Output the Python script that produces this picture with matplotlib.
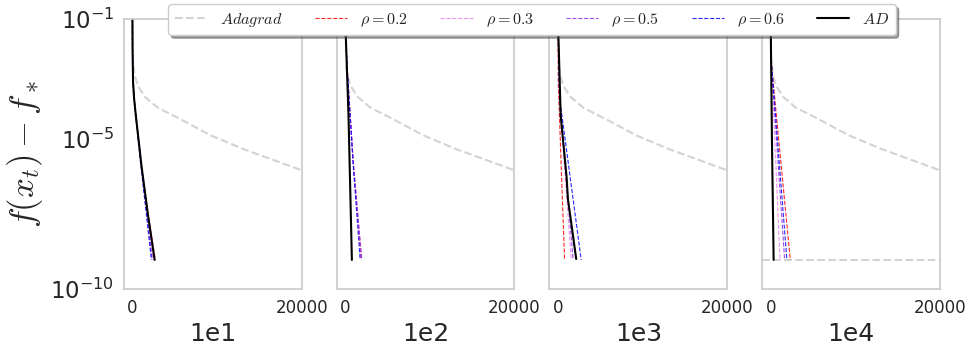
import matplotlib
matplotlib.use('Agg')
import matplotlib.pyplot as plt
import seaborn as sns

sns.set_style('white')
plt.rcParams['mathtext.fontset'] = 'cm'
plt.rcParams['axes.edgecolor'] = '.8'
plt.rcParams['axes.linewidth'] = 1.25

panel_names = ['1e1', '1e2', '1e3', '1e4']

# Adagrad (same shape in every panel)
adagrad_t = [100, 300, 700, 1500, 3000, 5400, 9300, 13200, 17100, 20000]
adagrad_f = [2.8e-3, 1.2e-3, 5.5e-4, 2.5e-4, 1.1e-4, 5.0e-5, 1.3e-5, 4.5e-6, 1.8e-6, 9e-7]
adagrad_floor_1e4 = 9.3e-10

# panel 1e1
p1_ad_t = [0, 10, 70, 190, 390, 1060, 1830, 2620]
p1_ad_f = [1e-1, 1.1e-2, 8e-4, 2.3e-4, 6.3e-5, 1.3e-6, 3e-8, 9.3e-10]
p1_r02_t = [0, 10, 70, 190, 390, 1060, 1850, 2700]
p1_r02_f = [1e-1, 1.1e-2, 8e-4, 2.3e-4, 6.3e-5, 1.3e-6, 3e-8, 9.3e-10]
p1_r03_t = [0, 10, 70, 190, 390, 1060, 2450]
p1_r03_f = [1e-1, 1.1e-2, 8e-4, 2.3e-4, 6.3e-5, 1.3e-6, 9.3e-10]
p1_r05_t = [0, 10, 70, 190, 390, 1060, 2330]
p1_r05_f = [1e-1, 1.1e-2, 8e-4, 2.3e-4, 6.3e-5, 1.3e-6, 9.3e-10]
p1_r06_t = [0, 10, 70, 190, 390, 1000, 2240]
p1_r06_f = [1e-1, 1.1e-2, 8e-4, 2.3e-4, 6.3e-5, 1.3e-6, 9.3e-10]

# panel 1e2
p2_ad_t = [0, 390, 790]
p2_ad_f = [1e-1, 6.3e-5, 9.3e-10]
p2_r02_t = [0, 200, 980, 1900]
p2_r02_f = [1e-1, 3.0e-3, 1.3e-6, 9.3e-10]
p2_r03_t = [0, 200, 980, 1970]
p2_r03_f = [1e-1, 3.0e-3, 1.3e-6, 9.3e-10]
p2_r05_t = [0, 200, 980, 1950]
p2_r05_f = [1e-1, 3.0e-3, 1.3e-6, 9.3e-10]
p2_r06_t = [0, 200, 950, 1770]
p2_r06_f = [1e-1, 3.0e-3, 1.3e-6, 9.3e-10]

# panel 1e3
p3_ad_t = [0, 320, 1020, 1180, 2160]
p3_ad_f = [1e-1, 6.3e-5, 5.5e-7, 1.0e-7, 1.0e-9]
p3_r02_t = [0, 40, 430, 790]
p3_r02_f = [1e-1, 7.9e-4, 5.5e-7, 9.3e-10]
p3_r03_t = [0, 200, 1570]
p3_r03_f = [1e-1, 2.3e-4, 9.3e-10]
p3_r05_t = [0, 200, 1800]
p3_r05_f = [1e-1, 2.3e-4, 9.3e-10]
p3_r06_t = [0, 200, 2750]
p3_r06_f = [1e-1, 2.3e-4, 9.3e-10]

# panel 1e4
p4_ad_t = [0, 150, 350]
p4_ad_f = [1e-1, 1e-5, 9.3e-10]
p4_r02_t = [0, 100, 2320]
p4_r02_f = [1e-1, 3.0e-3, 9.3e-10]
p4_r03_t = [0, 100, 1100]
p4_r03_f = [1e-1, 3.0e-3, 9.3e-10]
p4_r05_t = [0, 100, 1650]
p4_r05_f = [1e-1, 3.0e-3, 9.3e-10]
p4_r06_t = [0, 100, 1920]
p4_r06_f = [1e-1, 3.0e-3, 9.3e-10]

panels = [
    (p1_r02_t, p1_r02_f, p1_r03_t, p1_r03_f, p1_r05_t, p1_r05_f, p1_r06_t, p1_r06_f, p1_ad_t, p1_ad_f),
    (p2_r02_t, p2_r02_f, p2_r03_t, p2_r03_f, p2_r05_t, p2_r05_f, p2_r06_t, p2_r06_f, p2_ad_t, p2_ad_f),
    (p3_r02_t, p3_r02_f, p3_r03_t, p3_r03_f, p3_r05_t, p3_r05_f, p3_r06_t, p3_r06_f, p3_ad_t, p3_ad_f),
    (p4_r02_t, p4_r02_f, p4_r03_t, p4_r03_f, p4_r05_t, p4_r05_f, p4_r06_t, p4_r06_f, p4_ad_t, p4_ad_f),
]

rho_labels = [r'$\rho=0.2$', r'$\rho=0.3$', r'$\rho=0.5$', r'$\rho=0.6$']
rho_colors = ['red', 'violet', 'blueviolet', 'blue']

fig, axes = plt.subplots(1, 4, sharey=True, figsize=(9.71, 3.49), dpi=100)
fig.subplots_adjust(left=0.1277, right=0.968, top=0.9456, bottom=0.172, wspace=0.197)

for i, ax in enumerate(axes):
    d = panels[i]
    ax.plot(adagrad_t, adagrad_f, color='lightgray', ls='--', lw=1.5, label='$Adagrad$')
    if i == 3:
        ax.axhline(adagrad_floor_1e4, color='lightgray', ls='--', lw=1.5)
    for k in range(4):
        ax.plot(d[2 * k], d[2 * k + 1], color=rho_colors[k], ls='--', lw=0.8,
                alpha=0.85, label=rho_labels[k])
    ax.plot(d[8], d[9], color='black', lw=1.5, label='$AD$')
    ax.set_yscale('log')
    ax.set_ylim(1e-10, 1e-1)
    ax.set_yticks([1e-1, 1e-5, 1e-10])
    ax.set_xlim(-1000, 20000)
    ax.set_xticks([0, 20000])
    ax.tick_params(axis='x', labelsize=12)
    ax.tick_params(axis='y', labelsize=16.5)
    ax.set_xlabel(panel_names[i], fontsize=18)

axes[0].set_ylabel(r'$f(x_t) - f_*$', fontsize=25, labelpad=4)

handles, labels = axes[0].get_legend_handles_labels()
fig.legend(handles, labels, loc='center', bbox_to_anchor=(0.548, 0.943), ncol=6,
           fancybox=True, shadow=True, frameon=True, fontsize=11.6)

plt.savefig('out.png', dpi=100)
